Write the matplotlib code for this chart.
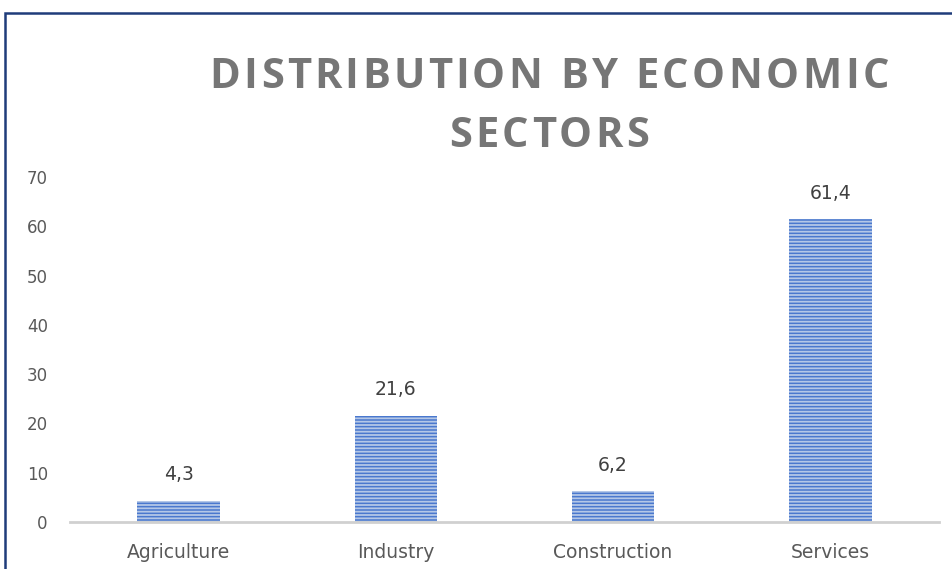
import matplotlib
matplotlib.use("Agg")
import matplotlib.pyplot as plt
from matplotlib.patches import Rectangle
from matplotlib.textpath import TextPath
from matplotlib.font_manager import FontProperties

sectors = ["Agriculture", "Industry", "Construction", "Services"]
shares = [4.3, 21.6, 6.2, 61.4]
y_ticks = [0, 10, 20, 30, 40, 50, 60, 70]
title_lines = ["DISTRIBUTION BY ECONOMIC", "SECTORS"]

plt.rcParams["font.family"] = ["DejaVu Sans"]
plt.rcParams["hatch.linewidth"] = 1.3
plt.rcParams["hatch.color"] = "#B4C7E7"

fig = plt.figure(figsize=(9.53, 5.69), dpi=100)
ax = fig.add_axes([70 / 953, 1 - 522 / 569, 869 / 953, 345 / 569])

# frame of the chart area (top and left edges visible)
fig.patches.append(Rectangle((5 / 953, -0.1), 1.2, (569 - 12.5) / 569 + 0.1,
                             transform=fig.transFigure, fill=False,
                             edgecolor="#1F3C7A", linewidth=1.8))

x = range(len(sectors))
bars = ax.bar(x, shares, width=0.38, color="#4A78CE", hatch="-----",
              edgecolor="#B4C7E7", linewidth=0)

for b, v in zip(bars, shares):
    ax.annotate(f"{v:.1f}".replace(".", ","), (b.get_x() + b.get_width() / 2, v),
                xytext=(0, 12), textcoords="offset points", ha="center",
                va="bottom", fontsize=13.5, color="#404040")

ax.set_xlim(-0.5, len(sectors) - 0.5)
ax.set_ylim(0, 70)
ax.set_yticks(y_ticks)
ax.set_xticks(list(x))
ax.set_xticklabels(sectors)
ax.tick_params(axis="both", length=0, labelcolor="#595959")
ax.tick_params(axis="x", pad=15, labelsize=13.5)
ax.tick_params(axis="y", pad=16, labelsize=12)
for s in ["top", "right", "left"]:
    ax.spines[s].set_visible(False)
ax.spines["bottom"].set_color("#D0D0D0")
ax.spines["bottom"].set_linewidth(2)

# title with extra letter spacing, drawn one character at a time
fp = FontProperties(family="Open Sans", weight="bold", size=30)
spacing = 3.4  # px between letters
px = 100 / 72.0


def char_w(c):
    if c == " ":
        return TextPath((0, 0), "a a", prop=fp).get_extents().width * px - \
            TextPath((0, 0), "aa", prop=fp).get_extents().width * px
    return TextPath((0, 0), "x" + c + "x", prop=fp).get_extents().width * px - \
        TextPath((0, 0), "xx", prop=fp).get_extents().width * px


for line, yc in zip(title_lines, [78, 136]):
    widths = [char_w(c) for c in line]
    total = sum(widths) + spacing * (len(line) - 1)
    xpos = 549 - total / 2
    for c, w in zip(line, widths):
        fig.text(xpos / 953, 1 - yc / 569, c, ha="left", va="center",
                 fontproperties=fp, color="#767676")
        xpos += w + spacing

fig.savefig("out.png", dpi=100)
